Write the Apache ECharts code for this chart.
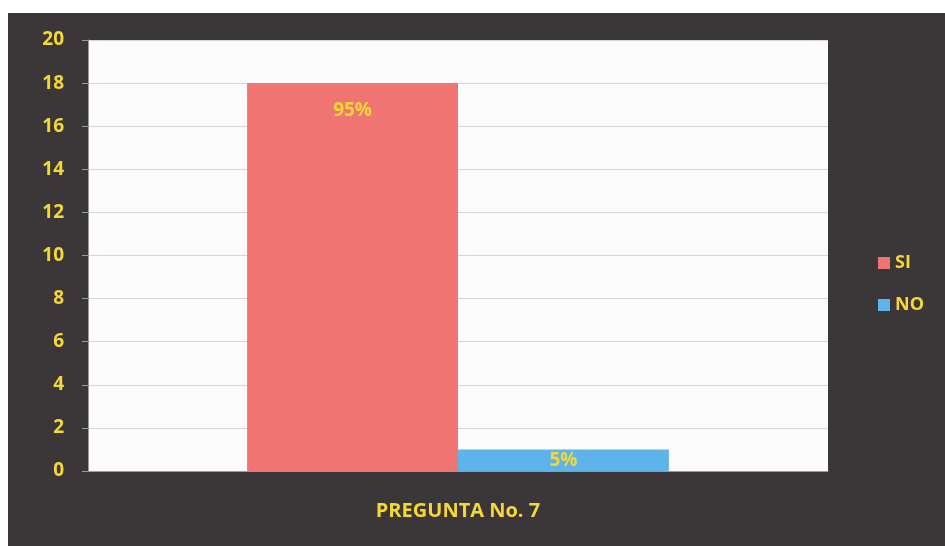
<!DOCTYPE html>
<html><head><meta charset="utf-8">
<script src="https://cdn.jsdelivr.net/npm/echarts@6/dist/echarts.min.js"></script>
<style>html,body{margin:0;padding:0;background:#fff}#c{width:945px;height:546px}</style>
</head><body><div id="c"></div>
<script>
const categories = ['PREGUNTA No. 7'];
const seriesNames = ['SI', 'NO'];
const siValues = [18];
const noValues = [1];
const siLabels = ['95%'];
const noLabels = ['5%'];

const yellow = '#f5d832';
const chart = echarts.init(document.getElementById('c'));
chart.setOption({
  backgroundColor: '#ffffff',
  animation: false,
  graphic: [{ type: 'rect', z: -10, shape: { x: 8, y: 13, width: 945, height: 546 }, style: { fill: '#3b3637' } }],
  grid: { left: 88, top: 40, right: 117, bottom: 75, show: true, backgroundColor: '#fcfcfc', borderWidth: 0 },
  legend: {
    orient: 'vertical', left: 873, top: 249, itemGap: 24, itemWidth: 12, itemHeight: 12,
    icon: 'rect', data: seriesNames,
    textStyle: { color: yellow, fontWeight: 'bold', fontSize: 18, fontFamily: 'Open Sans' }
  },
  xAxis: {
    type: 'category', data: categories,
    axisLine: { lineStyle: { color: '#9a9a9a' } },
    axisTick: { show: false },
    axisLabel: { color: yellow, fontWeight: 'bold', fontSize: 20, fontFamily: 'Open Sans', margin: 30 }
  },
  yAxis: {
    type: 'value', min: 0, max: 20, interval: 2,
    axisLine: { show: true, lineStyle: { color: '#9a9a9a' } },
    axisTick: { show: true, length: 6, lineStyle: { color: '#9a9a9a' } },
    splitLine: { lineStyle: { color: '#d4d4dc' } },
    axisLabel: { color: yellow, fontWeight: 'bold', fontSize: 19, fontFamily: 'Open Sans', margin: 24 }
  },
  series: [
    { name: 'SI', type: 'bar', data: siValues, barGap: '0%', barCategoryGap: '43%',
      itemStyle: { color: '#f07471' },
      label: { show: true, position: 'insideTop', distance: 18, formatter: p => siLabels[p.dataIndex],
        color: yellow, fontWeight: 'bold', fontSize: 19, fontFamily: 'Open Sans' } },
    { name: 'NO', type: 'bar', data: noValues,
      itemStyle: { color: '#5db3ea' },
      label: { show: true, position: 'inside', formatter: p => noLabels[p.dataIndex],
        color: yellow, fontWeight: 'bold', fontSize: 19, fontFamily: 'Open Sans' } }
  ]
});
</script></body></html>
